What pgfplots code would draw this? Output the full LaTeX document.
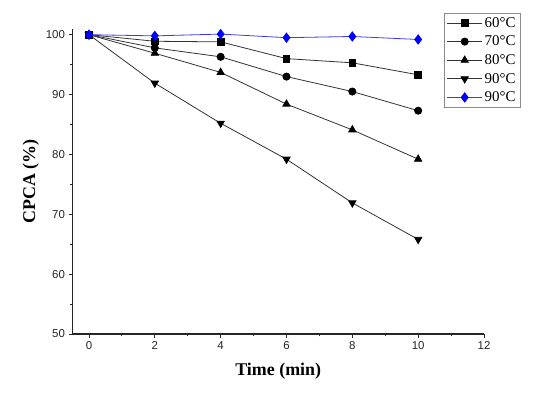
\documentclass[border=0pt]{standalone}
\usepackage{fontspec}
\setmainfont{Liberation Serif}
\newfontfamily\arialf{Liberation Sans}
\usepackage{pgfplots}
\pgfplotsset{compat=1.18}
\definecolor{myblue}{RGB}{0,0,255}
\definecolor{lineblue}{RGB}{60,60,230}
\begin{document}
\begin{tikzpicture}
\useasboundingbox (0,0) rectangle (543bp,393bp);
\begin{axis}[
  at={(72.5bp,59bp)}, anchor=south west,
  scale only axis, width=411.5bp, height=305bp,
  xmin=-0.5, xmax=12, ymin=50, ymax=100.95,
  axis lines=left,
  axis line style={-, line width=1.1bp, black!85},
  xtick={0,2,...,12}, ytick={50,60,...,100},
  minor x tick num=1, minor y tick num=1,
  tick align=outside,
  major tick length=4bp, minor tick length=2.5bp,
  every tick/.style={line width=0.9bp, black!85},
  ticklabel style={font=\arialf\fontsize{11.5}{13}\selectfont, text=black!85},
  /pgf/number format/assume math mode=true,
  xlabel={\bfseries Time (min)},
  ylabel={\bfseries CPCA (\%)},
  label style={font=\fontsize{18}{20}\selectfont},
  xlabel style={at={(axis description cs:0.5,0)}, anchor=north, yshift=-26bp},
  ylabel style={at={(axis description cs:0,0.5)}, anchor=south, yshift=30bp},
  legend style={at={(axis description cs:0.9028,1.0525)}, anchor=north west,
    font=\fontsize{15}{16}\selectfont, draw=black!45, line width=0.6bp,
    row sep=3.2bp, inner xsep=2.5bp, inner ysep=2bp,
    /tikz/every even column/.append style={column sep=0bp}},
  legend cell align=left,
  legend image code/.code={%
    \draw[mark repeat=2,mark phase=2,#1] plot coordinates {(0bp,0bp) (17.5bp,0bp) (35bp,0bp)};},
  every axis plot/.append style={line width=0.8bp},
]
\addplot[black!80, mark=square*, mark size=3.3bp, mark options={black, solid}] coordinates {
 (0,100) (2,98.9) (4,98.8) (6,96.0) (8,95.3) (10,93.3)};
\addlegendentry{60°C}
\addplot[black!80, mark=*, mark size=3.6bp, mark options={black, solid}] coordinates {
 (0,100) (2,97.8) (4,96.3) (6,93.0) (8,90.5) (10,87.3)};
\addlegendentry{70°C}
\addplot[black!80, mark=triangle*, mark size=4.2bp, mark options={black, solid}] coordinates {
 (0,100) (2,96.9) (4,93.7) (6,88.4) (8,84.1) (10,79.2)};
\addlegendentry{80°C}
\addplot[black!80, mark=triangle*, mark size=4.2bp, mark options={black, solid, rotate=180}] coordinates {
 (0,100) (2,91.9) (4,85.2) (6,79.2) (8,71.9) (10,65.8)};
\addlegendentry{90°C}
\addplot[lineblue, mark=diamond*, mark size=4.6bp, mark options={myblue, solid}] coordinates {
 (0,100) (2,99.8) (4,100.1) (6,99.5) (8,99.7) (10,99.2)};
\addlegendentry{90°C}
\end{axis}
\end{tikzpicture}
\end{document}
